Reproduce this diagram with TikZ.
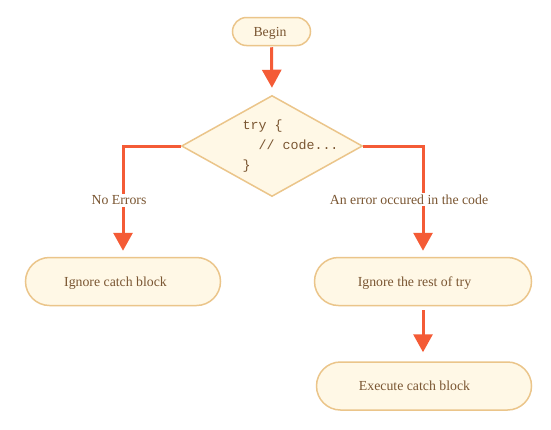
\documentclass[tikz,border=0pt]{standalone}
\usepackage{fontspec}
\setmainfont{Liberation Serif}
\setmonofont{Liberation Mono}
\usetikzlibrary{arrows.meta,shapes.geometric,shapes.misc}
\definecolor{bord}{HTML}{EBC58A}
\definecolor{boxfill}{HTML}{FFF8E6}
\definecolor{arr}{HTML}{F45B36}
\definecolor{txt}{HTML}{7A5632}
\begin{document}
\begin{tikzpicture}[x=1pt,y=-1pt,
  pill/.style={rounded rectangle,draw=bord,fill=boxfill,line width=1.5pt,inner sep=0pt,
    minimum height=48pt,text=txt,text height=9.5pt,text depth=0pt,font=\fontsize{13.8}{16}\selectfont},
  flow/.style={draw=arr,line width=3pt,-{Triangle[width=19pt,length=18pt]}},
  lbl/.style={fill=white,text=txt,inner sep=2pt,font=\fontsize{13.8}{16}\selectfont}]
\fill[white] (0,0) rectangle (551,429);
\useasboundingbox (0,0) rectangle (551,429);
\node[pill,minimum width=78pt,minimum height=28pt] (begin) at (271.5,31.5) {Begin\hspace*{3pt}};
\node[diamond,draw=bord,fill=boxfill,line width=1.5pt,inner sep=0pt,
  minimum width=181pt,minimum height=101pt] (try) at (272,146) {};
\node[anchor=west,inner sep=0pt,align=left,text=txt,
  font=\fontsize{13.3}{20}\selectfont\ttfamily] (code) at (242.5,146.5)
  {try \{\\\phantom{xx}// code...\\\}};
\node[pill,minimum width=195pt] (ign) at (123,281.5) {Ignore catch block\hspace*{15pt}};
\node[pill,minimum width=217pt] (rest) at (423,281.5) {Ignore the rest of try\hspace*{17pt}};
\node[pill,minimum width=215pt] (exec) at (424,386) {Execute catch block\hspace*{19pt}};
\draw[flow,shorten <=1pt,shorten >=7pt] (begin.south) -- (try.north);
\draw[flow,shorten >=6pt] (try.west) -| (ign.north);
\draw[flow,shorten >=6pt] (try.east) -| (rest.north);
\draw[flow,shorten <=4pt,shorten >=9pt] (rest.south) -- (rest.south |- exec.north);
\node[lbl] (noerr) at (119,200.5) {No Errors};
\node[lbl] (err) at (409,199.5) {An error occured in the code};
\end{tikzpicture}
\end{document}
